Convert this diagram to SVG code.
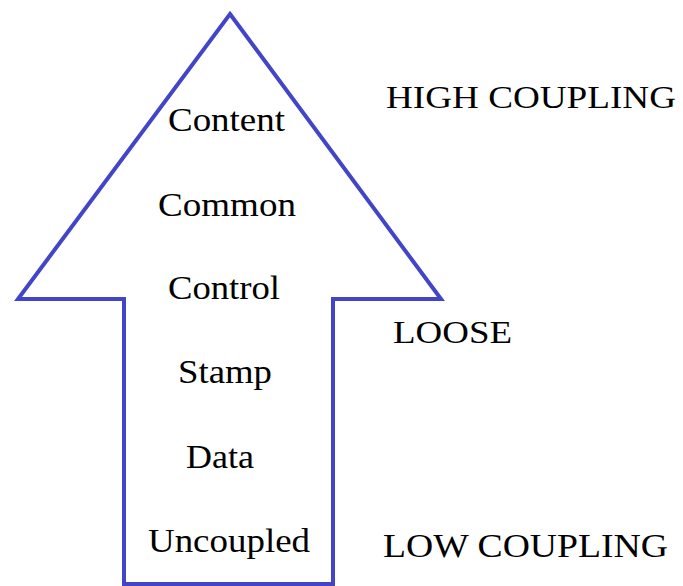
<svg xmlns="http://www.w3.org/2000/svg" width="683" height="586" viewBox="0 0 683 586">
<style>
.arrow{fill:#ffffff;stroke:#4245c8;stroke-width:4;stroke-linejoin:miter}
.t{font-family:"Liberation Serif","Times New Roman",serif;fill:#000000}
</style>
<rect width="683" height="586" fill="#ffffff"/>
<g id="arrow">
<polygon class="arrow" points="230,14 441,299 333,299 333,584 124,584 124,299 18,299"/>
</g>
<g id="levels">
<text id="content" class="t" x="168" y="131" font-size="34" textLength="117" lengthAdjust="spacingAndGlyphs">Content</text>
<text id="common" class="t" x="158" y="216" font-size="34" textLength="138" lengthAdjust="spacingAndGlyphs">Common</text>
<text id="control" class="t" x="168" y="299" font-size="34" textLength="112" lengthAdjust="spacingAndGlyphs">Control</text>
<text id="stamp" class="t" x="178" y="383" font-size="34" textLength="94" lengthAdjust="spacingAndGlyphs">Stamp</text>
<text id="data" class="t" x="186" y="468" font-size="34" textLength="68" lengthAdjust="spacingAndGlyphs">Data</text>
<text id="uncoupled" class="t" x="148" y="552" font-size="34" textLength="162" lengthAdjust="spacingAndGlyphs">Uncoupled</text>
</g>
<g id="scale">
<text id="high" class="t" x="386" y="108" font-size="32" textLength="290" lengthAdjust="spacingAndGlyphs">HIGH COUPLING</text>
<text id="loose" class="t" x="393" y="343" font-size="32" textLength="119" lengthAdjust="spacingAndGlyphs">LOOSE</text>
<text id="low" class="t" x="383" y="557" font-size="34" textLength="285" lengthAdjust="spacingAndGlyphs">LOW COUPLING</text>
</g>
</svg>
